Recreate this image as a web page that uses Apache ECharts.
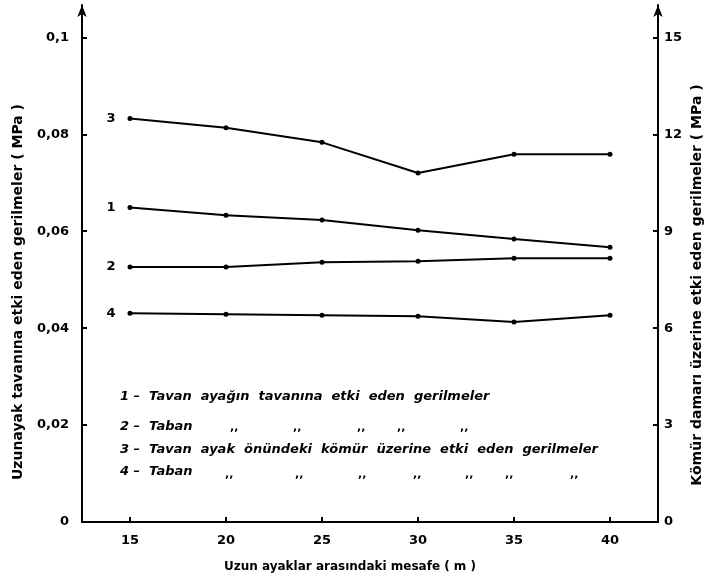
<!DOCTYPE html>
<html><head><meta charset="utf-8">
<script src="https://cdn.jsdelivr.net/npm/echarts@6/dist/echarts.min.js"></script>
<style>html,body{margin:0;padding:0;background:#fff}#c{width:709px;height:578px}</style>
</head><body><div id="c"></div>
<script>
const distances = [15, 20, 25, 30, 35, 40];
const xTicks = [15, 20, 25, 30, 35, 40];
// left axis (MPa): stresses on longwall roof
const s1RoofTavan = [0.0649, 0.0633, 0.0623, 0.0602, 0.0584, 0.0567];
const s2RoofTaban = [0.0526, 0.0526, 0.0536, 0.0538, 0.0544, 0.0544];
// right axis (MPa): stresses on coal seam
const s3CoalTavan = [12.49, 12.2, 11.75, 10.8, 11.38, 11.38];
const s4CoalTaban = [6.46, 6.43, 6.40, 6.37, 6.19, 6.40];
const seriesLabels = ['1', '2', '3', '4'];
const legendTexts = [
  '1 –  Tavan  ayağın  tavanına  etki  eden  gerilmeler',
  '2 –  Taban',
  '3 –  Tavan  ayak  önündeki  kömür  üzerine  etki  eden  gerilmeler',
  '4 –  Taban'
];
const xTitle = 'Uzun ayaklar arasındaki mesafe ( m )';
const yLeftTitle = 'Uzunayak tavanına etki eden gerilmeler ( MPa )';
const yRightTitle = 'Kömür damarı üzerine etki eden gerilmeler ( MPa )';

const FONT = 'DejaVu Sans';
const chart = echarts.init(document.getElementById('c'));

function mk(name, vals, axis) {
  return {
    name: name, type: 'line', yAxisIndex: axis,
    data: vals.map((v, i) => i === 0
      ? { value: [distances[i], v], label: { show: true, position: 'left', distance: 12, formatter: name,
          color: '#000', fontFamily: FONT, fontWeight: 'bold', fontSize: 13 } }
      : [distances[i], v]),
    symbol: 'circle', symbolSize: 5,
    lineStyle: { color: '#000', width: 2 },
    itemStyle: { color: '#000' },
    animation: false
  };
}

const rowY = [397, 427, 450, 472];
const dittos2 = [230, 293, 357, 397, 460];
const dittos4 = [225, 295, 358, 413, 465, 505, 570];
const graphics = [];
legendTexts.forEach((t, i) => graphics.push({ type: 'text', x: 120, y: rowY[i],
  style: { text: t, fontFamily: FONT, fontStyle: 'italic', fontWeight: 'bold', fontSize: 13, fill: '#000',
    align: 'left', verticalAlign: 'middle' } }));
dittos2.forEach(x => graphics.push({ type: 'text', x: x, y: rowY[1],
  style: { text: ',,', fontFamily: FONT, fontWeight: 'bold', fontSize: 11, fill: '#000', verticalAlign: 'middle' } }));
dittos4.forEach(x => graphics.push({ type: 'text', x: x, y: rowY[3] + 2,
  style: { text: ',,', fontFamily: FONT, fontWeight: 'bold', fontSize: 11, fill: '#000', verticalAlign: 'middle' } }));
graphics.push({ type: 'text', x: 350, y: 567,
  style: { text: xTitle, fontFamily: FONT, fontWeight: 'bold', fontSize: 12, fill: '#000', align: 'center', verticalAlign: 'middle' } });
graphics.push({ type: 'text', x: 18, y: 292, rotation: Math.PI / 2,
  style: { text: yLeftTitle, fontFamily: FONT, fontWeight: 'bold', fontSize: 14, fill: '#000', align: 'center', verticalAlign: 'middle' } });
graphics.push({ type: 'text', x: 697, y: 285, rotation: Math.PI / 2,
  style: { text: yRightTitle, fontFamily: FONT, fontWeight: 'bold', fontSize: 14, fill: '#000', align: 'center', verticalAlign: 'middle' } });

const axisTxt = { color: '#000', fontFamily: FONT, fontWeight: 'bold', fontSize: 13 };

chart.setOption({
  animation: false,
  grid: { left: 82, right: 51, top: 5, bottom: 56, containLabel: false },
  xAxis: {
    type: 'value', min: 12.5, max: 42.5,
    axisLine: { lineStyle: { color: '#000', width: 2 } },
    axisTick: { show: true, inside: true, length: 5, customValues: xTicks, lineStyle: { color: '#000', width: 2 } },
    axisLabel: Object.assign({ customValues: xTicks, margin: 12 }, axisTxt),
    splitLine: { show: false }
  },
  yAxis: [
    {
      type: 'value', min: 0, max: 16 / 150, interval: 0.02, position: 'left',
      axisLine: { show: true, symbol: ['none', 'arrow'], symbolSize: [7, 12], lineStyle: { color: '#000', width: 2 } },
      axisTick: { show: true, inside: true, length: 5, lineStyle: { color: '#000', width: 2 } },
      axisLabel: Object.assign({ showMaxLabel: false, margin: 13,
        formatter: v => String(+v.toFixed(3)).replace('.', ',') }, axisTxt),
      splitLine: { show: false }
    },
    {
      type: 'value', min: 0, max: 16, interval: 3, position: 'right',
      axisLine: { show: true, symbol: ['none', 'arrow'], symbolSize: [7, 12], lineStyle: { color: '#000', width: 2 } },
      axisTick: { show: true, inside: true, length: 5, lineStyle: { color: '#000', width: 2 } },
      axisLabel: Object.assign({ showMaxLabel: false, margin: 6 }, axisTxt),
      splitLine: { show: false }
    }
  ],
  series: [
    mk(seriesLabels[0], s1RoofTavan, 0),
    mk(seriesLabels[1], s2RoofTaban, 0),
    mk(seriesLabels[2], s3CoalTavan, 1),
    mk(seriesLabels[3], s4CoalTaban, 1)
  ],
  graphic: graphics
});
</script></body></html>
